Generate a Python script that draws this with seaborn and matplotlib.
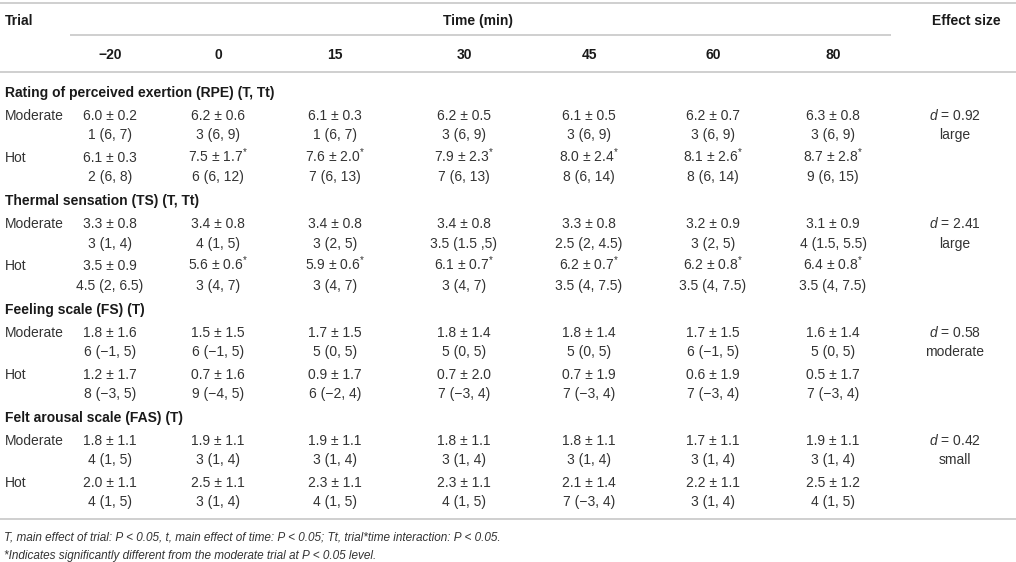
import seaborn as sns
import matplotlib.pyplot as plt

# Table values
times = ["\u221220", "0", "15", "30", "45", "60", "80"]
trials = ["Moderate", "Hot"]

measures = [
    "Rating of perceived exertion (RPE) (T, Tt)",
    "Thermal sensation (TS) (T, Tt)",
    "Feeling scale (FS) (T)",
    "Felt arousal scale (FAS) (T)",
]

# mean, sd per trial (moderate, hot)
rpe_mean = [[6.0, 6.2, 6.1, 6.2, 6.1, 6.2, 6.3], [6.1, 7.5, 7.6, 7.9, 8.0, 8.1, 8.7]]
rpe_sd = [[0.2, 0.6, 0.3, 0.5, 0.5, 0.7, 0.8], [0.3, 1.7, 2.0, 2.3, 2.4, 2.6, 2.8]]
rpe_med = [["1 (6, 7)", "3 (6, 9)", "1 (6, 7)", "3 (6, 9)", "3 (6, 9)", "3 (6, 9)", "3 (6, 9)"],
           ["2 (6, 8)", "6 (6, 12)", "7 (6, 13)", "7 (6, 13)", "8 (6, 14)", "8 (6, 14)", "9 (6, 15)"]]
rpe_sig = [0, 1, 1, 1, 1, 1, 1]

ts_mean = [[3.3, 3.4, 3.4, 3.4, 3.3, 3.2, 3.1], [3.5, 5.6, 5.9, 6.1, 6.2, 6.2, 6.4]]
ts_sd = [[0.8, 0.8, 0.8, 0.8, 0.8, 0.9, 0.9], [0.9, 0.6, 0.6, 0.7, 0.7, 0.8, 0.8]]
ts_med = [["3 (1, 4)", "4 (1, 5)", "3 (2, 5)", "3.5 (1.5 ,5)", "2.5 (2, 4.5)", "3 (2, 5)", "4 (1.5, 5.5)"],
          ["4.5 (2, 6.5)", "3 (4, 7)", "3 (4, 7)", "3 (4, 7)", "3.5 (4, 7.5)", "3.5 (4, 7.5)", "3.5 (4, 7.5)"]]
ts_sig = [0, 1, 1, 1, 1, 1, 1]

fs_mean = [[1.8, 1.5, 1.7, 1.8, 1.8, 1.7, 1.6], [1.2, 0.7, 0.9, 0.7, 0.7, 0.6, 0.5]]
fs_sd = [[1.6, 1.5, 1.5, 1.4, 1.4, 1.5, 1.4], [1.7, 1.6, 1.7, 2.0, 1.9, 1.9, 1.7]]
fs_med = [["6 (\u22121, 5)", "6 (\u22121, 5)", "5 (0, 5)", "5 (0, 5)", "5 (0, 5)", "6 (\u22121, 5)", "5 (0, 5)"],
          ["8 (\u22123, 5)", "9 (\u22124, 5)", "6 (\u22122, 4)", "7 (\u22123, 4)", "7 (\u22123, 4)", "7 (\u22123, 4)", "7 (\u22123, 4)"]]
fs_sig = [0, 0, 0, 0, 0, 0, 0]

fas_mean = [[1.8, 1.9, 1.9, 1.8, 1.8, 1.7, 1.9], [2.0, 2.5, 2.3, 2.3, 2.1, 2.2, 2.5]]
fas_sd = [[1.1, 1.1, 1.1, 1.1, 1.1, 1.1, 1.1], [1.1, 1.1, 1.1, 1.1, 1.4, 1.1, 1.2]]
fas_med = [["4 (1, 5)", "3 (1, 4)", "3 (1, 4)", "3 (1, 4)", "3 (1, 4)", "3 (1, 4)", "3 (1, 4)"],
           ["4 (1, 5)", "3 (1, 4)", "4 (1, 5)", "4 (1, 5)", "7 (\u22123, 4)", "3 (1, 4)", "4 (1, 5)"]]
fas_sig = [0, 0, 0, 0, 0, 0, 0]

effect_d = [0.92, 2.41, 0.58, 0.42]
effect_label = ["large", "large", "moderate", "small"]

footnotes = [
    "T, main effect of trial: P < 0.05, t, main effect of time: P < 0.05; Tt, trial*time interaction: P < 0.05.",
    "*Indicates significantly different from the moderate trial at P < 0.05 level.",
]

blocks = [
    (rpe_mean, rpe_sd, rpe_med, rpe_sig),
    (ts_mean, ts_sd, ts_med, ts_sig),
    (fs_mean, fs_sd, fs_med, fs_sig),
    (fas_mean, fas_sd, fas_med, fas_sig),
]

sns.set_theme(style="white")
plt.rcParams["font.family"] = ["Liberation Sans", "DejaVu Sans"]
plt.rcParams["mathtext.fontset"] = "custom"
plt.rcParams["mathtext.rm"] = "Liberation Sans"
plt.rcParams["mathtext.it"] = "Liberation Sans:italic"

fig = plt.figure(figsize=(10.16, 5.62), dpi=100)
ax = fig.add_axes([0, 0, 1, 1])
ax.set_xlim(0, 1016)
ax.set_ylim(562, 0)
ax.axis("off")

txt = "#333333"
hdr = "#1a1a1a"
rule = "#cccccc"
fsz = 10
bl = 5  # baseline offset below the visual centre
col_x = [110, 218, 335, 464, 589, 713, 833]
eff_x = 955


def put(x, y, s, ha="center", **kw):
    ax.text(x, y + bl, s, ha=ha, va="baseline", fontsize=kw.pop("size", fsz),
            color=kw.pop("color", txt), **kw)


# Rules
for y, x0, x1 in [(3, 0, 1016), (35, 70, 891), (72, 0, 1016), (519, 0, 1016)]:
    ax.plot([x0, x1], [y, y], color=rule, lw=1.3, solid_capstyle="butt")

# Header
put(5, 20, "Trial", ha="left", fontweight="bold", color=hdr)
put(478, 20, "Time (min)", fontweight="bold", color=hdr)
put(966, 20, "Effect size", fontweight="bold", color=hdr)
for x, t in zip(col_x, times):
    put(x, 54, t, fontweight="bold", color=hdr)

# Body
for i, (title, (means, sds, meds, sig)) in enumerate(zip(measures, blocks)):
    y0 = 92 + 108.3 * i
    put(5, y0, title, ha="left", fontweight="bold", color=hdr)
    for j, trial in enumerate(trials):
        ya = y0 + 23 + 42 * j
        yb = ya + 19.5
        put(5, ya, trial, ha="left")
        for k, x in enumerate(col_x):
            s = f"{means[j][k]:.1f} \u00b1 {sds[j][k]:.1f}"
            if j == 1 and sig[k]:
                s += r"$^{*}$"
            put(x, ya, s)
            put(x, yb, meds[j][k])
    put(eff_x, y0 + 23, f"$d$ = {effect_d[i]:.2f}")
    put(eff_x, y0 + 42.5, effect_label[i])

# Footnotes
put(4, 536, footnotes[0], ha="left", size=8.5, style="italic")
put(4, 554, footnotes[1], ha="left", size=8.5, style="italic")

fig.savefig("out.png", dpi=100)
